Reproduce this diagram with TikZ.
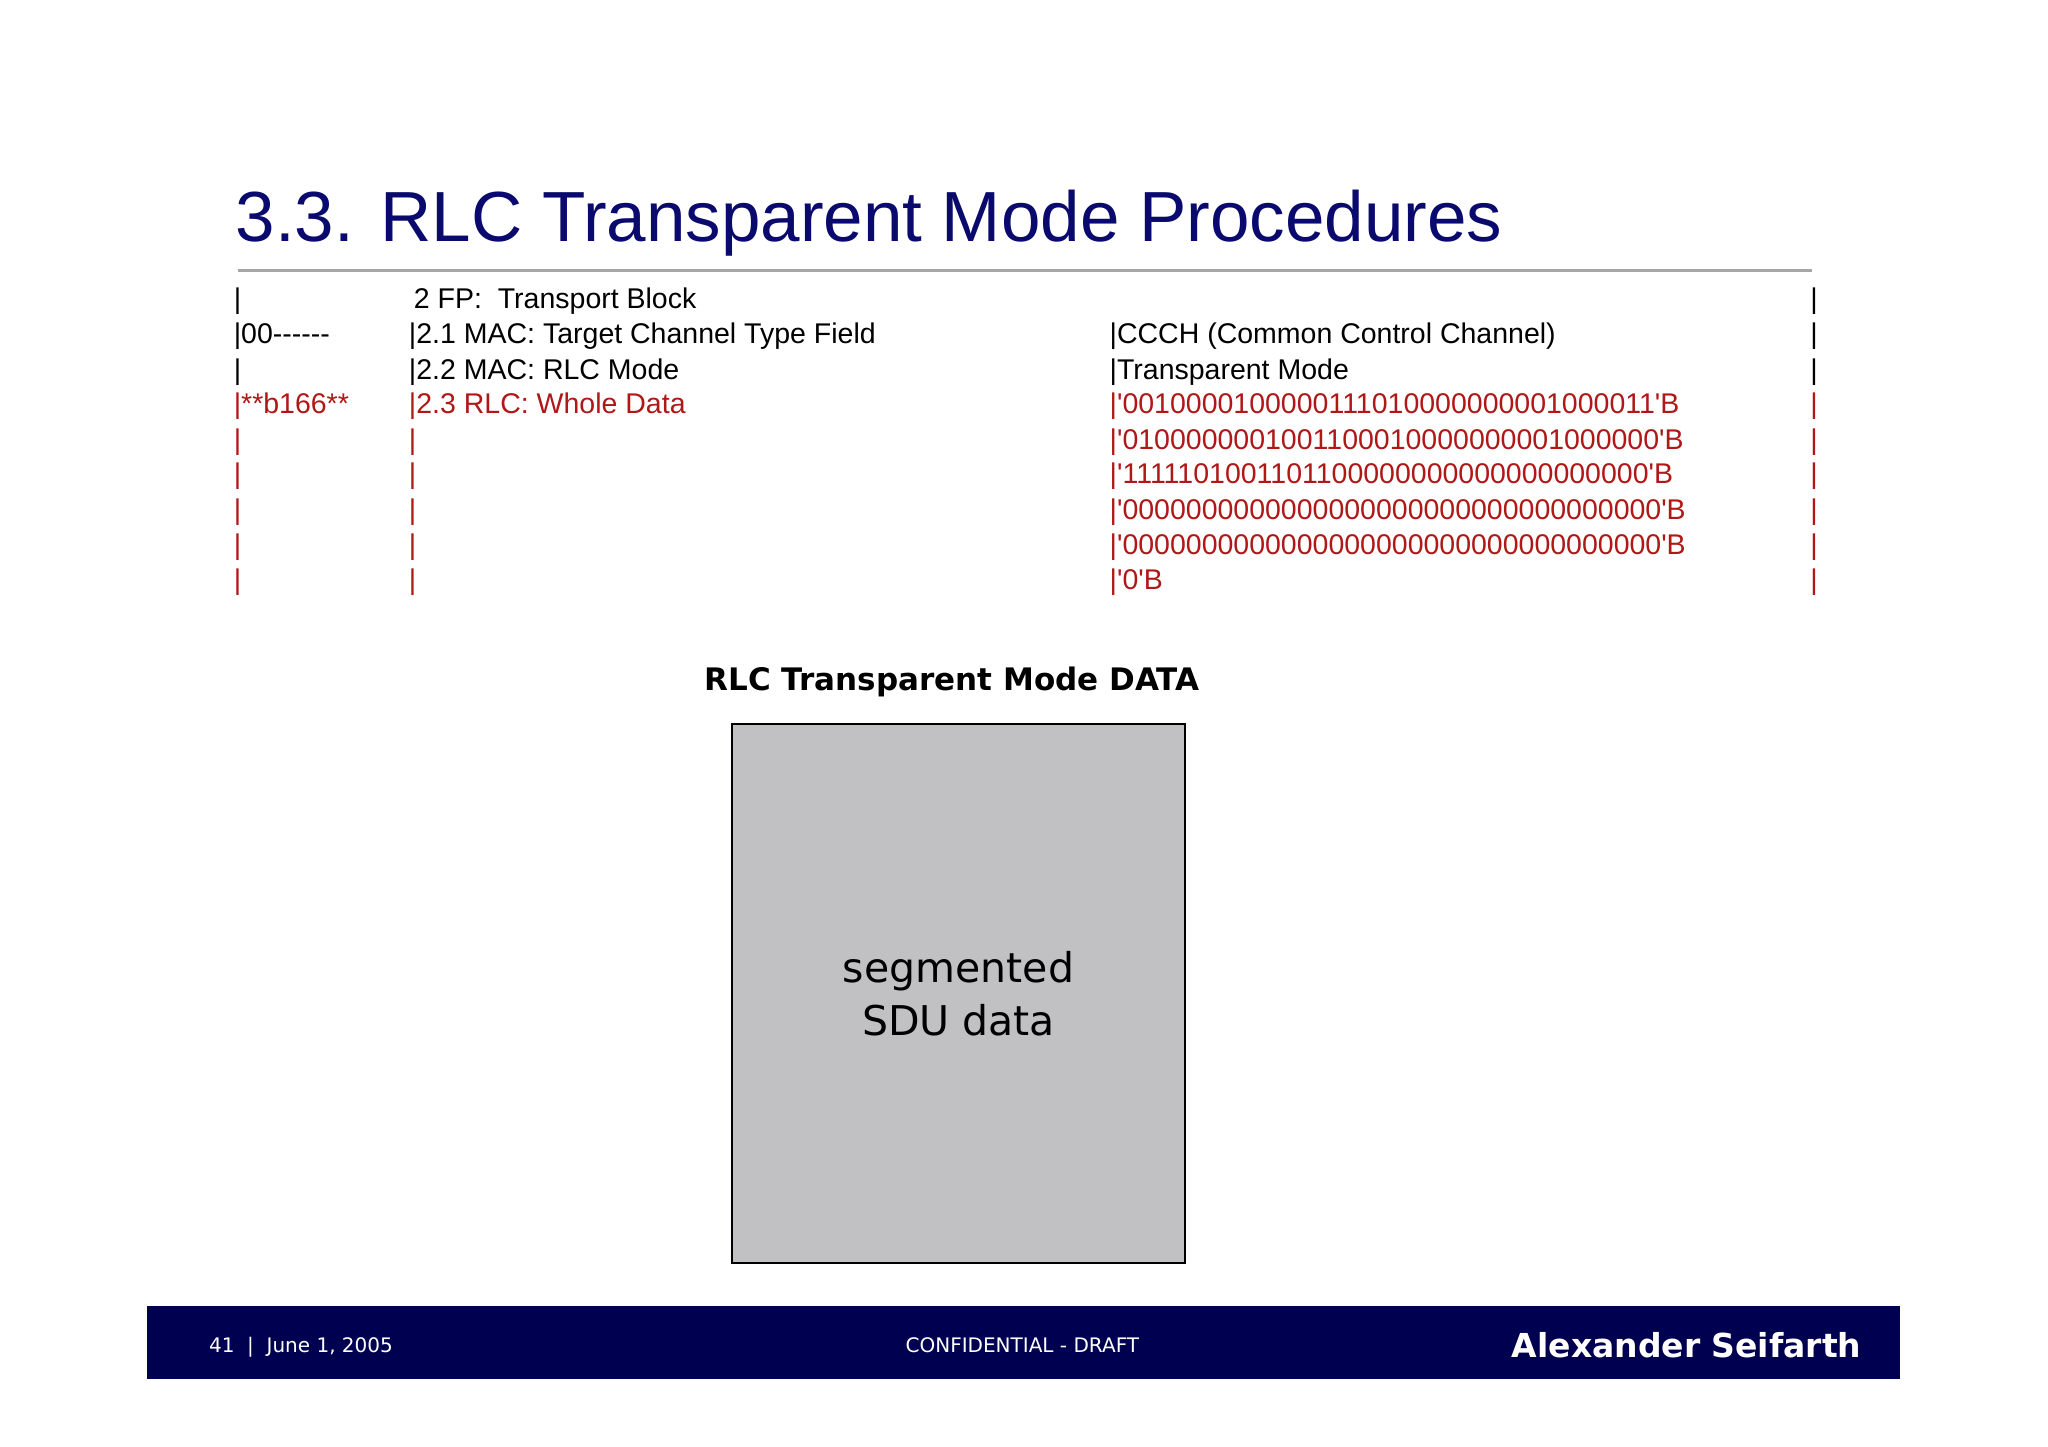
\documentclass[tikz,border=0pt]{standalone}
\usepackage{fontspec}
\setmainfont{DejaVu Sans}
\newfontfamily\tabfont{Liberation Sans}
\definecolor{navy}{HTML}{0A0A6E}
\definecolor{foot}{HTML}{000050}
\definecolor{dred}{HTML}{B01818}
\definecolor{boxgray}{HTML}{C1C0C3}
\begin{document}
\begin{tikzpicture}[x=0.9897pt,y=-0.9897pt,
  tx/.style={anchor=base west,inner sep=0pt,font=\tabfont\fontsize{28.5}{30}\selectfont},
  rd/.style={tx,text=dred}]
\useasboundingbox (0,0) rectangle (2069.3,1462);
\fill[white] (0,0) rectangle (2069.3,1462);
\node[anchor=base west,inner sep=0pt,text=navy,font=\tabfont\fontsize{71}{75}\selectfont] (title) at (238,244) {3.3. RLC Transparent Mode Procedures};
\draw[gray!70,line width=3pt] (240,273) -- (1831,273);
\node[tx] (a1) at (236,312) {|};
\node[tx] (b1) at (418,312) {2 FP:\ \ Transport Block};
\node[tx] (c1) at (1829,312) {|};
\node[tx] (a2) at (236,347) {|00------};
\node[tx] (b2) at (413,347) {|2.1 MAC: Target Channel Type Field};
\node[tx] (m2) at (1121,347) {|CCCH (Common Control Channel)};
\node[tx] (c2) at (1829,347) {|};
\node[tx] (a3) at (236,383) {|};
\node[tx] (b3) at (413,383) {|2.2 MAC: RLC Mode};
\node[tx] (m3) at (1121,383) {|Transparent Mode};
\node[tx] (c3) at (1829,383) {|};
\node[rd] (a4) at (236,418) {|**b166**};
\node[rd] (b4) at (413,418) {|2.3 RLC: Whole Data};
\node[rd] (m4) at (1121,418) {|'0010000100000111010000000001000011'B};
\node[rd] (c4) at (1829,418) {|};
\foreach \y/\s [count=\i from 5] in {454/0100000001001100010000000001000000,489/1111101001101100000000000000000000,525/0000000000000000000000000000000000,560/0000000000000000000000000000000000,596/0}{
  \node[rd] (a\i) at (236,\y) {|};
  \node[rd] (b\i) at (413,\y) {|};
  \node[rd] (m\i) at (1121,\y) {|'\s'B};
  \node[rd] (c\i) at (1829,\y) {|};
}
\node[font=\bfseries\fontsize{31}{33}\selectfont,inner sep=0pt] (cap) at (962,689) {RLC Transparent Mode DATA};
\node[draw=black,line width=1.2pt,fill=boxgray,minimum width=453,minimum height=539,inner sep=0pt,anchor=north west,
  align=center,font=\fontsize{41}{53}\selectfont] (box) at (739,731) {segmented\\SDU data};
\fill[foot] (149,1320) rectangle (1920,1393);
\node[anchor=base west,inner sep=0pt,text=white,font=\fontsize{20}{22}\selectfont] (pg) at (211,1367) {41\ \ |\ \ June 1, 2005};
\node[anchor=base,inner sep=0pt,text=white,font=\fontsize{20}{22}\selectfont] (conf) at (1033,1367) {CONFIDENTIAL - DRAFT};
\node[anchor=base east,inner sep=0pt,text=white,font=\bfseries\fontsize{33}{36}\selectfont] (auth) at (1881,1372) {Alexander Seifarth};
\end{tikzpicture}
\end{document}
